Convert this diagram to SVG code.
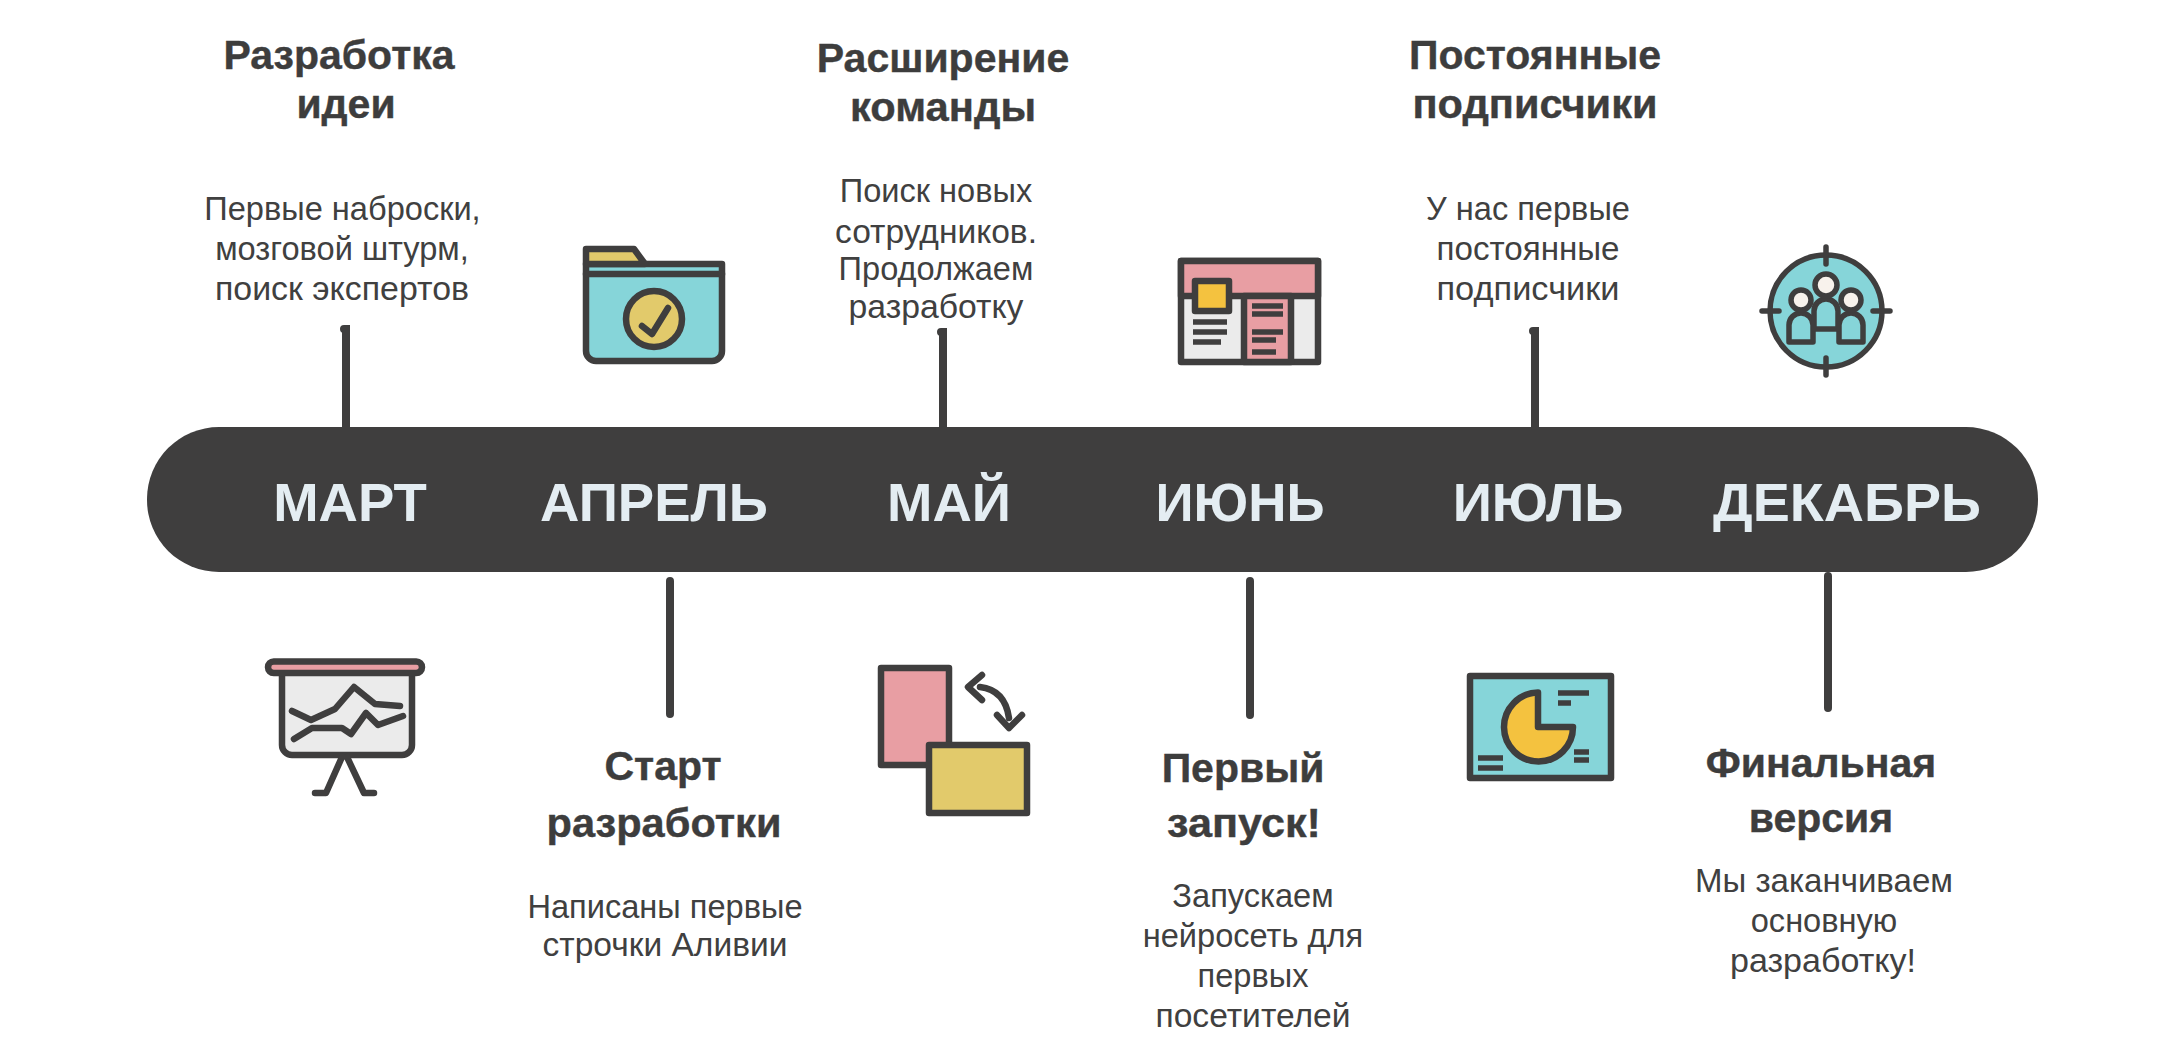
<svg xmlns="http://www.w3.org/2000/svg" width="2158" height="1044" viewBox="0 0 2158 1044">
<style>
.t{font-family:"Liberation Sans",Arial,sans-serif;font-weight:700;font-size:41px;fill:#3d3d3d;stroke:#3d3d3d;stroke-width:.4;text-anchor:middle}
.b{font-family:"Liberation Sans",Arial,sans-serif;font-size:32.6px;fill:#404040;text-anchor:middle}
.m{font-family:"Liberation Sans",Arial,sans-serif;font-weight:700;font-size:54.500px;fill:#e4edf2;text-anchor:middle}
.s{stroke:#3f3e3e;stroke-width:6.500;stroke-linecap:round;stroke-linejoin:round;fill:none}
.k{stroke-width:5.500}
.st{stroke:#3f3e3e;stroke-width:8;stroke-linecap:round;fill:none}
.l{stroke:#3f3e3e;stroke-width:5.500;fill:none}
.teal{fill:#86d5d9}.yel{fill:#e2ca6b}.pink{fill:#e89ea3}.org{fill:#f4c23f}.gr{fill:#ebebeb}.wh{fill:#f8f2ec}
</style>
<rect width="2158" height="1044" fill="#fff"/>
<g id="connectors">
<path class="st" d="M344 329H346V427M670 581V714M941 332H943V427M1250 581V715M1533 331H1535V427M1828 576V708"/>
</g>
<g id="timeline">
<rect x="147" y="427" width="1891" height="145" rx="72" fill="#3f3e3e"/>
<text class="m" x="350" y="521">МАРТ</text>
<text class="m" x="654" y="521">АПРЕЛЬ</text>
<text class="m" x="949" y="521">МАЙ</text>
<text class="m" x="1240" y="521" textLength="169" lengthAdjust="spacingAndGlyphs">ИЮНЬ</text>
<text class="m" x="1538" y="521">ИЮЛЬ</text>
<text class="m" x="1847" y="521" textLength="268" lengthAdjust="spacingAndGlyphs">ДЕКАБРЬ</text>
</g>
<g id="node-mart">
<text class="t" x="339" y="69">Разработка</text><text class="t" x="346" y="118">идеи</text>
<text class="b" x="342.500" y="220">Первые наброски,</text><text class="b" x="342" y="260">мозговой штурм,</text><text class="b" x="342" y="300" textLength="254" lengthAdjust="spacingAndGlyphs">поиск экспертов</text>
<path class="s gr" d="M282 672H412V745a10 10 0 0 1-10 10H292a10 10 0 0 1-10-10Z"/>
<rect class="s pink" x="268" y="661.500" width="154" height="11.500" rx="5.700"/>
<path class="s" d="M292 711L311 720L335 709L354 687L375 704L400 706M294 739L312 728L342 728L351 734L366 713L378 725L403 716M342 757L326 793H315M347 757L364 793H374"/>
</g>
<g id="node-aprel">
<text class="t" x="663" y="780">Старт</text><text class="t" x="664" y="837" textLength="235" lengthAdjust="spacingAndGlyphs">разработки</text>
<text class="b" x="665" y="918">Написаны первые</text><text class="b" x="665" y="956" textLength="245" lengthAdjust="spacingAndGlyphs">строчки Аливии</text>
<path class="s teal" d="M586 264H722V351a10 10 0 0 1-10 10H596a10 10 0 0 1-10-10Z"/>
<path class="s yel" d="M586 264V249H634L645 264Z"/>
<path class="s" d="M586 274H722"/>
<circle class="s yel" cx="654" cy="319" r="28"/>
<path class="s" d="M642 326L652 334L668 308"/>
</g>
<g id="node-mai">
<text class="t" x="943" y="72">Расширение</text><text class="t" x="943" y="121" textLength="186" lengthAdjust="spacingAndGlyphs">команды</text>
<text class="b" x="936" y="202">Поиск новых</text><text class="b" x="936" y="243" textLength="202" lengthAdjust="spacingAndGlyphs">сотрудников.</text><text class="b" x="936" y="280">Продолжаем</text><text class="b" x="936" y="318" textLength="175" lengthAdjust="spacingAndGlyphs">разработку</text>
<rect class="s pink" x="881" y="668" width="68" height="97"/>
<rect class="s yel" x="929" y="745" width="98" height="68"/>
<path class="s" d="M982 675L968 687L982 700M980 687Q1005 690 1009 718M997 715L1009 728L1022 715"/>
</g>
<g id="node-iyun">
<text class="t" x="1243" y="782">Первый</text><text class="t" x="1244" y="837" textLength="154" lengthAdjust="spacingAndGlyphs">запуск!</text>
<text class="b" x="1253" y="907">Запускаем</text><text class="b" x="1253" y="947">нейросеть для</text><text class="b" x="1253" y="987">первых</text><text class="b" x="1253" y="1027" textLength="195" lengthAdjust="spacingAndGlyphs">посетителей</text>
<rect class="s gr" x="1181" y="261" width="137" height="101"/>
<rect class="s pink" x="1181" y="261" width="137" height="35"/>
<rect class="s pink" x="1244" y="296" width="47" height="66"/>
<rect class="s org" x="1195" y="281" width="34" height="30"/>
<path class="l" d="M1193 322H1227M1193 332H1227M1193 342H1221M1252 306H1283M1252 314H1283M1252 332H1283M1252 340H1276M1252 352H1276"/>
</g>
<g id="node-iyul">
<text class="t" x="1535" y="69">Постоянные</text><text class="t" x="1535" y="118" textLength="245" lengthAdjust="spacingAndGlyphs">подписчики</text>
<text class="b" x="1528" y="220">У нас первые</text><text class="b" x="1528" y="260" textLength="183" lengthAdjust="spacingAndGlyphs">постоянные</text><text class="b" x="1528" y="300" textLength="183" lengthAdjust="spacingAndGlyphs">подписчики</text>
<rect class="s teal" x="1470" y="676" width="141" height="102"/>
<path class="s org" d="M1538 692.500A34.500 34.500 0 1 0 1573 727H1538Z"/>
<path class="l" d="M1558 693H1589M1558 703H1571M1574 752H1589M1574 760H1589M1478 758H1503M1478 768H1503"/>
</g>
<g id="node-dekabr">
<text class="t" x="1821" y="777">Финальная</text><text class="t" x="1821" y="832">версия</text>
<text class="b" x="1824" y="892" textLength="258" lengthAdjust="spacingAndGlyphs">Мы заканчиваем</text><text class="b" x="1824" y="932">основную</text><text class="b" x="1823" y="972" textLength="186" lengthAdjust="spacingAndGlyphs">разработку!</text>
<circle class="s k teal" cx="1826" cy="311" r="56"/>
<path class="s k" d="M1762 311H1779M1873 311H1890M1826 247V264M1826 358V375"/>
<path class="s k teal" d="M1789 342V325a12 12 0 0 1 24 0V342Z"/>
<path class="s k teal" d="M1839 342V325a12 12 0 0 1 24 0V342Z"/>
<circle class="s k wh" cx="1801" cy="300" r="10"/>
<circle class="s k wh" cx="1851" cy="300" r="10"/>
<path class="s k teal" d="M1814 329V311a12 12 0 0 1 24 0V329Z"/>
<circle class="s k wh" cx="1826" cy="285" r="11"/>
</g>
</svg>
